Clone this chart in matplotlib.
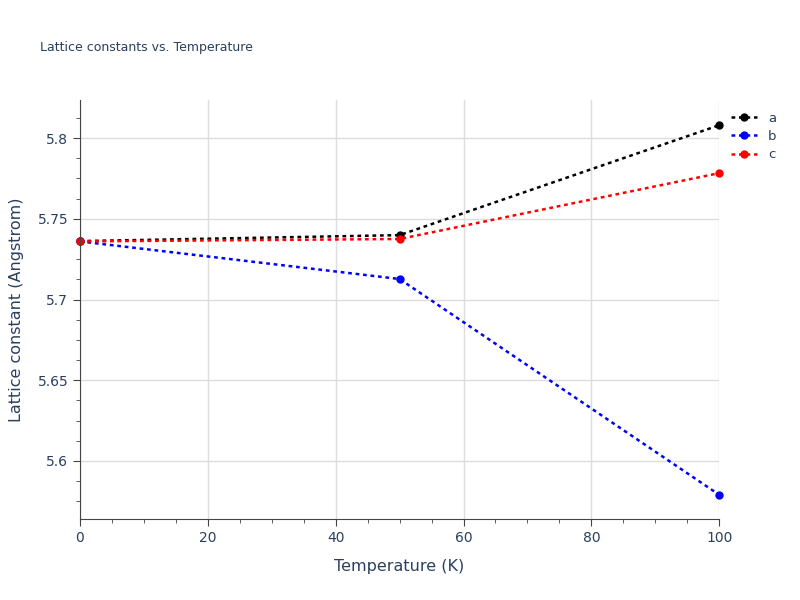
import matplotlib
matplotlib.use("Agg")
import matplotlib.pyplot as plt
from matplotlib.ticker import MultipleLocator

temps = [0, 50, 100]
a_vals = [5.7362, 5.7399, 5.808]
b_vals = [5.736, 5.7127, 5.579]
c_vals = [5.736, 5.7375, 5.7783]
labels = ["a", "b", "c"]
colors = ["black", "blue", "red"]

fig = plt.figure(figsize=(8, 6), dpi=100)
ax = fig.add_axes([0.1, 0.135, 0.799, 0.698])
for vals, lab, col in zip([a_vals, b_vals, c_vals], labels, colors):
    ax.plot(temps, vals, linestyle=(0, (1.5, 1.5)), lw=1.8, color=col, marker="o", ms=5, label=lab, clip_on=False)

tc = "#2a3f5f"
ax.set_xlim(0, 100)
ax.set_ylim(5.5640, 5.8235)
ax.xaxis.set_major_locator(MultipleLocator(20))
ax.xaxis.set_minor_locator(MultipleLocator(5))
ax.yaxis.set_major_locator(MultipleLocator(0.05))
ax.yaxis.set_minor_locator(MultipleLocator(0.0125))
ax.grid(True, which="major", color="#dddddd", lw=1)
ax.set_axisbelow(True)
for s in ["top", "right"]:
    ax.spines[s].set_visible(False)
for s in ["left", "bottom"]:
    ax.spines[s].set_color("#444444")
ax.tick_params(which="both", colors="#444444", labelcolor=tc, labelsize=10, direction="out")
ax.tick_params(which="major", length=5)
ax.tick_params(which="minor", length=3)
ax.set_yticks([5.6, 5.65, 5.7, 5.75, 5.8])
ax.set_yticklabels(["5.6", "5.65", "5.7", "5.75", "5.8"])
ax.set_xlabel("Temperature (K)", color=tc, fontsize=11.5, labelpad=10)
ax.set_ylabel("Lattice constant (Angstrom)", color=tc, fontsize=11.5, labelpad=10)
fig.text(0.05, 0.915, "Lattice constants vs. Temperature", color=tc, fontsize=9)
ax.legend(loc="upper left", bbox_to_anchor=(1.01, 0.985), frameon=False, fontsize=9.5,
          labelcolor=tc, handlelength=2, borderaxespad=0, labelspacing=0.4)
fig.savefig("out.png", dpi=100)
